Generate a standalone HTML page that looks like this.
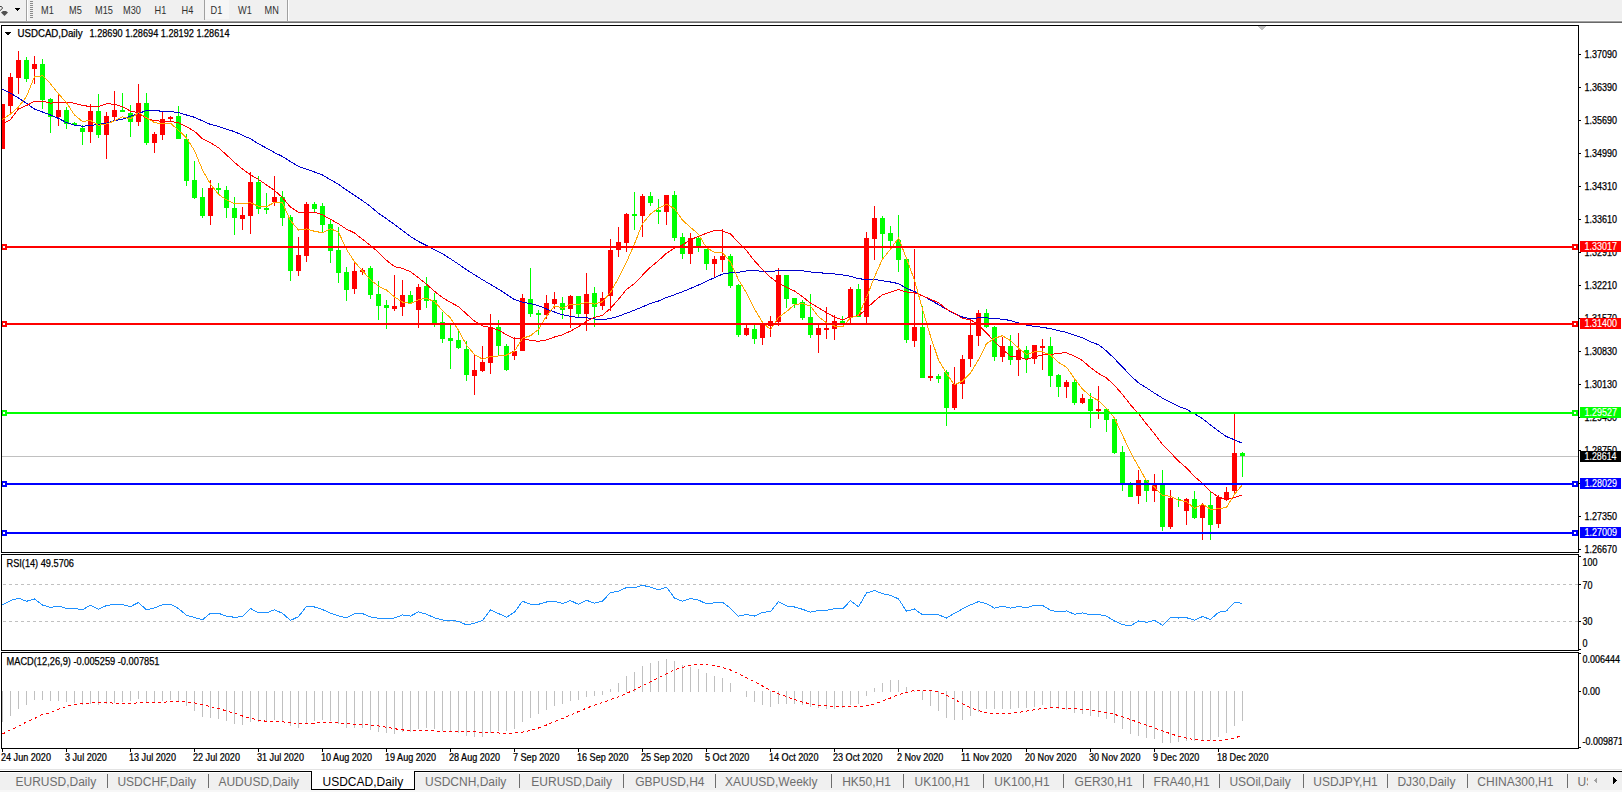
<!DOCTYPE html>
<html><head><meta charset="utf-8"><title>USDCAD,Daily</title>
<style>
html,body{margin:0;padding:0;background:#fff;}
body{width:1622px;height:792px;overflow:hidden;position:relative;}
svg{position:absolute;left:0;top:0;display:block;}
.ax{font-family:"Liberation Sans",Arial,sans-serif;font-size:10px;fill:#000;stroke:#000;stroke-width:0.25px;}
.axw{fill:#fff;stroke:#fff;stroke-width:0.15px;}
.tb{font-family:"Liberation Sans",Arial,sans-serif;font-size:10px;fill:#303030;}
.tab{font-family:"Liberation Sans",Arial,sans-serif;font-size:12px;}
</style></head><body>
<svg width="1622" height="792" viewBox="0 0 1622 792" shape-rendering="crispEdges">
<rect x="0" y="0" width="1622" height="792" fill="#fff"/>
<rect x="0" y="0" width="1622" height="21" fill="#f0f0f0"/>
<rect x="0" y="20" width="1622" height="1" fill="#f7f7f7"/>
<rect x="0" y="21" width="1622" height="1" fill="#a0a0a0"/>
<rect x="0" y="22" width="1622" height="1" fill="#696969"/>
<path d="M0,6.5 L1.5,6.5 L2.5,8 L1.5,9.5 L0,10.5" fill="none" stroke="#404040" stroke-width="1" shape-rendering="auto"/>
<polygon points="3,11 6,11 8,12.5 4.5,16 1,12.5" fill="#505050" shape-rendering="auto"/>
<polygon points="15,8 20,8 17.5,11" fill="#000"/>
<rect x="26" y="0" width="1" height="21" fill="#a0a0a0"/><rect x="27" y="0" width="1" height="21" fill="#fff"/>
<rect x="30" y="1" width="3" height="1" fill="#8a8a8a"/>
<rect x="30" y="3" width="3" height="1" fill="#8a8a8a"/>
<rect x="30" y="5" width="3" height="1" fill="#8a8a8a"/>
<rect x="30" y="7" width="3" height="1" fill="#8a8a8a"/>
<rect x="30" y="9" width="3" height="1" fill="#8a8a8a"/>
<rect x="30" y="11" width="3" height="1" fill="#8a8a8a"/>
<rect x="30" y="13" width="3" height="1" fill="#8a8a8a"/>
<rect x="30" y="15" width="3" height="1" fill="#8a8a8a"/>
<rect x="30" y="17" width="3" height="1" fill="#8a8a8a"/>
<rect x="205" y="0" width="24" height="19" fill="#f6f6f6"/>
<rect x="204" y="0" width="1" height="20" fill="#a0a0a0"/>
<rect x="287" y="0" width="1" height="21" fill="#a0a0a0"/><rect x="288" y="0" width="1" height="21" fill="#fff"/>
<text transform="translate(41,13.6) scale(0.92,1)" class="tb">M1</text>
<text transform="translate(69,13.6) scale(0.92,1)" class="tb">M5</text>
<text transform="translate(95,13.6) scale(0.92,1)" class="tb">M15</text>
<text transform="translate(123,13.6) scale(0.92,1)" class="tb">M30</text>
<text transform="translate(154.5,13.6) scale(0.92,1)" class="tb">H1</text>
<text transform="translate(181.5,13.6) scale(0.92,1)" class="tb">H4</text>
<text transform="translate(210.5,13.6) scale(0.92,1)" class="tb">D1</text>
<text transform="translate(238,13.6) scale(0.92,1)" class="tb">W1</text>
<text transform="translate(264.5,13.6) scale(0.92,1)" class="tb">MN</text>
<line x1="2" y1="456.5" x2="1578" y2="456.5" stroke="#c0c0c0" stroke-width="1"/>
<rect x="2" y="104" width="1" height="45" fill="#ff0000"/>
<rect x="2" y="104" width="3" height="45" fill="#ff0000"/>
<rect x="10" y="73" width="1" height="40" fill="#ff0000"/>
<rect x="8" y="77" width="5" height="29" fill="#ff0000"/>
<rect x="18" y="51" width="1" height="43" fill="#ff0000"/>
<rect x="16" y="60" width="5" height="18" fill="#ff0000"/>
<rect x="26" y="57" width="1" height="25" fill="#00ff00"/>
<rect x="24" y="60" width="5" height="19" fill="#00ff00"/>
<rect x="34" y="56" width="1" height="28" fill="#ff0000"/>
<rect x="32" y="64" width="5" height="5" fill="#ff0000"/>
<rect x="42" y="59" width="1" height="50" fill="#00ff00"/>
<rect x="40" y="64" width="5" height="36" fill="#00ff00"/>
<rect x="50" y="98" width="1" height="35" fill="#00ff00"/>
<rect x="48" y="99" width="5" height="18" fill="#00ff00"/>
<rect x="58" y="94" width="1" height="32" fill="#ff0000"/>
<rect x="56" y="110" width="5" height="7" fill="#ff0000"/>
<rect x="66" y="107" width="1" height="22" fill="#00ff00"/>
<rect x="64" y="110" width="5" height="14" fill="#00ff00"/>
<rect x="74" y="122" width="1" height="4" fill="#00ff00"/>
<rect x="72" y="123" width="5" height="2" fill="#00ff00"/>
<rect x="82" y="125" width="1" height="20" fill="#00ff00"/>
<rect x="80" y="128" width="5" height="4" fill="#00ff00"/>
<rect x="90" y="104" width="1" height="39" fill="#ff0000"/>
<rect x="88" y="111" width="5" height="21" fill="#ff0000"/>
<rect x="98" y="94" width="1" height="44" fill="#00ff00"/>
<rect x="96" y="111" width="5" height="24" fill="#00ff00"/>
<rect x="106" y="112" width="1" height="47" fill="#ff0000"/>
<rect x="104" y="116" width="5" height="19" fill="#ff0000"/>
<rect x="114" y="91" width="1" height="30" fill="#ff0000"/>
<rect x="112" y="110" width="5" height="7" fill="#ff0000"/>
<rect x="122" y="93" width="1" height="19" fill="#00ff00"/>
<rect x="120" y="110" width="5" height="2" fill="#00ff00"/>
<rect x="130" y="105" width="1" height="32" fill="#00ff00"/>
<rect x="128" y="113" width="5" height="9" fill="#00ff00"/>
<rect x="138" y="84" width="1" height="42" fill="#ff0000"/>
<rect x="136" y="103" width="5" height="19" fill="#ff0000"/>
<rect x="146" y="93" width="1" height="52" fill="#00ff00"/>
<rect x="144" y="103" width="5" height="40" fill="#00ff00"/>
<rect x="154" y="132" width="1" height="21" fill="#ff0000"/>
<rect x="152" y="134" width="5" height="9" fill="#ff0000"/>
<rect x="162" y="112" width="1" height="28" fill="#ff0000"/>
<rect x="160" y="119" width="5" height="16" fill="#ff0000"/>
<rect x="170" y="116" width="1" height="5" fill="#ff0000"/>
<rect x="168" y="117" width="5" height="2" fill="#ff0000"/>
<rect x="178" y="106" width="1" height="33" fill="#00ff00"/>
<rect x="176" y="116" width="5" height="23" fill="#00ff00"/>
<rect x="186" y="134" width="1" height="52" fill="#00ff00"/>
<rect x="184" y="139" width="5" height="42" fill="#00ff00"/>
<rect x="194" y="161" width="1" height="38" fill="#00ff00"/>
<rect x="192" y="180" width="5" height="18" fill="#00ff00"/>
<rect x="202" y="188" width="1" height="30" fill="#00ff00"/>
<rect x="200" y="197" width="5" height="19" fill="#00ff00"/>
<rect x="210" y="180" width="1" height="45" fill="#ff0000"/>
<rect x="208" y="188" width="5" height="28" fill="#ff0000"/>
<rect x="218" y="183" width="1" height="11" fill="#00ff00"/>
<rect x="216" y="188" width="5" height="2" fill="#00ff00"/>
<rect x="226" y="186" width="1" height="32" fill="#00ff00"/>
<rect x="224" y="190" width="5" height="18" fill="#00ff00"/>
<rect x="234" y="197" width="1" height="38" fill="#00ff00"/>
<rect x="232" y="208" width="5" height="10" fill="#00ff00"/>
<rect x="242" y="207" width="1" height="23" fill="#ff0000"/>
<rect x="240" y="215" width="5" height="4" fill="#ff0000"/>
<rect x="250" y="172" width="1" height="62" fill="#ff0000"/>
<rect x="248" y="182" width="5" height="34" fill="#ff0000"/>
<rect x="258" y="176" width="1" height="38" fill="#00ff00"/>
<rect x="256" y="182" width="5" height="27" fill="#00ff00"/>
<rect x="266" y="193" width="1" height="21" fill="#00ff00"/>
<rect x="264" y="208" width="5" height="2" fill="#00ff00"/>
<rect x="274" y="176" width="1" height="30" fill="#ff0000"/>
<rect x="272" y="197" width="5" height="5" fill="#ff0000"/>
<rect x="282" y="191" width="1" height="35" fill="#00ff00"/>
<rect x="280" y="197" width="5" height="21" fill="#00ff00"/>
<rect x="290" y="215" width="1" height="66" fill="#00ff00"/>
<rect x="288" y="217" width="5" height="54" fill="#00ff00"/>
<rect x="298" y="237" width="1" height="39" fill="#ff0000"/>
<rect x="296" y="255" width="5" height="16" fill="#ff0000"/>
<rect x="306" y="202" width="1" height="60" fill="#ff0000"/>
<rect x="304" y="204" width="5" height="52" fill="#ff0000"/>
<rect x="314" y="202" width="1" height="11" fill="#00ff00"/>
<rect x="312" y="204" width="5" height="5" fill="#00ff00"/>
<rect x="322" y="203" width="1" height="29" fill="#00ff00"/>
<rect x="320" y="206" width="5" height="19" fill="#00ff00"/>
<rect x="330" y="220" width="1" height="43" fill="#00ff00"/>
<rect x="328" y="224" width="5" height="27" fill="#00ff00"/>
<rect x="338" y="227" width="1" height="56" fill="#00ff00"/>
<rect x="336" y="250" width="5" height="23" fill="#00ff00"/>
<rect x="346" y="267" width="1" height="34" fill="#00ff00"/>
<rect x="344" y="272" width="5" height="18" fill="#00ff00"/>
<rect x="354" y="262" width="1" height="32" fill="#ff0000"/>
<rect x="352" y="271" width="5" height="18" fill="#ff0000"/>
<rect x="362" y="268" width="1" height="7" fill="#ff0000"/>
<rect x="360" y="270" width="5" height="2" fill="#ff0000"/>
<rect x="370" y="266" width="1" height="33" fill="#00ff00"/>
<rect x="368" y="268" width="5" height="27" fill="#00ff00"/>
<rect x="378" y="281" width="1" height="39" fill="#00ff00"/>
<rect x="376" y="294" width="5" height="12" fill="#00ff00"/>
<rect x="386" y="300" width="1" height="29" fill="#00ff00"/>
<rect x="384" y="305" width="5" height="3" fill="#00ff00"/>
<rect x="394" y="275" width="1" height="36" fill="#ff0000"/>
<rect x="392" y="306" width="5" height="3" fill="#ff0000"/>
<rect x="402" y="280" width="1" height="36" fill="#ff0000"/>
<rect x="400" y="295" width="5" height="12" fill="#ff0000"/>
<rect x="410" y="291" width="1" height="12" fill="#00ff00"/>
<rect x="408" y="295" width="5" height="8" fill="#00ff00"/>
<rect x="418" y="284" width="1" height="44" fill="#ff0000"/>
<rect x="416" y="287" width="5" height="23" fill="#ff0000"/>
<rect x="426" y="277" width="1" height="31" fill="#00ff00"/>
<rect x="424" y="286" width="5" height="15" fill="#00ff00"/>
<rect x="434" y="293" width="1" height="34" fill="#00ff00"/>
<rect x="432" y="300" width="5" height="23" fill="#00ff00"/>
<rect x="442" y="312" width="1" height="31" fill="#00ff00"/>
<rect x="440" y="322" width="5" height="17" fill="#00ff00"/>
<rect x="450" y="325" width="1" height="44" fill="#00ff00"/>
<rect x="448" y="338" width="5" height="3" fill="#00ff00"/>
<rect x="458" y="331" width="1" height="18" fill="#00ff00"/>
<rect x="456" y="340" width="5" height="8" fill="#00ff00"/>
<rect x="466" y="341" width="1" height="40" fill="#00ff00"/>
<rect x="464" y="349" width="5" height="26" fill="#00ff00"/>
<rect x="474" y="355" width="1" height="40" fill="#ff0000"/>
<rect x="472" y="370" width="5" height="6" fill="#ff0000"/>
<rect x="482" y="346" width="1" height="26" fill="#ff0000"/>
<rect x="480" y="362" width="5" height="9" fill="#ff0000"/>
<rect x="490" y="314" width="1" height="60" fill="#ff0000"/>
<rect x="488" y="327" width="5" height="36" fill="#ff0000"/>
<rect x="498" y="320" width="1" height="35" fill="#00ff00"/>
<rect x="496" y="327" width="5" height="19" fill="#00ff00"/>
<rect x="506" y="344" width="1" height="27" fill="#00ff00"/>
<rect x="504" y="346" width="5" height="24" fill="#00ff00"/>
<rect x="514" y="337" width="1" height="23" fill="#ff0000"/>
<rect x="512" y="351" width="5" height="5" fill="#ff0000"/>
<rect x="522" y="294" width="1" height="57" fill="#ff0000"/>
<rect x="520" y="298" width="5" height="53" fill="#ff0000"/>
<rect x="530" y="268" width="1" height="49" fill="#00ff00"/>
<rect x="528" y="299" width="5" height="15" fill="#00ff00"/>
<rect x="538" y="310" width="1" height="25" fill="#00ff00"/>
<rect x="536" y="313" width="5" height="2" fill="#00ff00"/>
<rect x="546" y="295" width="1" height="24" fill="#ff0000"/>
<rect x="544" y="303" width="5" height="12" fill="#ff0000"/>
<rect x="554" y="292" width="1" height="17" fill="#ff0000"/>
<rect x="552" y="299" width="5" height="5" fill="#ff0000"/>
<rect x="562" y="297" width="1" height="22" fill="#00ff00"/>
<rect x="560" y="303" width="5" height="7" fill="#00ff00"/>
<rect x="570" y="295" width="1" height="33" fill="#ff0000"/>
<rect x="568" y="296" width="5" height="13" fill="#ff0000"/>
<rect x="578" y="296" width="1" height="21" fill="#00ff00"/>
<rect x="576" y="296" width="5" height="18" fill="#00ff00"/>
<rect x="586" y="273" width="1" height="58" fill="#ff0000"/>
<rect x="584" y="294" width="5" height="20" fill="#ff0000"/>
<rect x="594" y="287" width="1" height="40" fill="#00ff00"/>
<rect x="592" y="293" width="5" height="14" fill="#00ff00"/>
<rect x="602" y="292" width="1" height="18" fill="#ff0000"/>
<rect x="600" y="298" width="5" height="8" fill="#ff0000"/>
<rect x="610" y="239" width="1" height="72" fill="#ff0000"/>
<rect x="608" y="250" width="5" height="46" fill="#ff0000"/>
<rect x="618" y="227" width="1" height="30" fill="#ff0000"/>
<rect x="616" y="242" width="5" height="8" fill="#ff0000"/>
<rect x="626" y="213" width="1" height="39" fill="#ff0000"/>
<rect x="624" y="214" width="5" height="29" fill="#ff0000"/>
<rect x="634" y="192" width="1" height="38" fill="#00ff00"/>
<rect x="632" y="214" width="5" height="2" fill="#00ff00"/>
<rect x="642" y="194" width="1" height="43" fill="#ff0000"/>
<rect x="640" y="196" width="5" height="20" fill="#ff0000"/>
<rect x="650" y="192" width="1" height="14" fill="#00ff00"/>
<rect x="648" y="196" width="5" height="7" fill="#00ff00"/>
<rect x="658" y="199" width="1" height="25" fill="#00ff00"/>
<rect x="656" y="210" width="5" height="2" fill="#00ff00"/>
<rect x="666" y="195" width="1" height="30" fill="#ff0000"/>
<rect x="664" y="195" width="5" height="17" fill="#ff0000"/>
<rect x="674" y="191" width="1" height="50" fill="#00ff00"/>
<rect x="672" y="195" width="5" height="43" fill="#00ff00"/>
<rect x="682" y="233" width="1" height="26" fill="#00ff00"/>
<rect x="680" y="237" width="5" height="17" fill="#00ff00"/>
<rect x="690" y="233" width="1" height="31" fill="#ff0000"/>
<rect x="688" y="238" width="5" height="16" fill="#ff0000"/>
<rect x="698" y="236" width="1" height="16" fill="#00ff00"/>
<rect x="696" y="238" width="5" height="8" fill="#00ff00"/>
<rect x="706" y="249" width="1" height="21" fill="#00ff00"/>
<rect x="704" y="249" width="5" height="15" fill="#00ff00"/>
<rect x="714" y="256" width="1" height="21" fill="#ff0000"/>
<rect x="712" y="259" width="5" height="5" fill="#ff0000"/>
<rect x="722" y="229" width="1" height="43" fill="#ff0000"/>
<rect x="720" y="256" width="5" height="4" fill="#ff0000"/>
<rect x="730" y="254" width="1" height="34" fill="#00ff00"/>
<rect x="728" y="256" width="5" height="30" fill="#00ff00"/>
<rect x="738" y="284" width="1" height="53" fill="#00ff00"/>
<rect x="736" y="285" width="5" height="50" fill="#00ff00"/>
<rect x="746" y="325" width="1" height="11" fill="#ff0000"/>
<rect x="744" y="328" width="5" height="7" fill="#ff0000"/>
<rect x="754" y="325" width="1" height="19" fill="#00ff00"/>
<rect x="752" y="329" width="5" height="10" fill="#00ff00"/>
<rect x="762" y="323" width="1" height="22" fill="#ff0000"/>
<rect x="760" y="324" width="5" height="14" fill="#ff0000"/>
<rect x="770" y="316" width="1" height="21" fill="#ff0000"/>
<rect x="768" y="321" width="5" height="5" fill="#ff0000"/>
<rect x="778" y="268" width="1" height="58" fill="#ff0000"/>
<rect x="776" y="275" width="5" height="47" fill="#ff0000"/>
<rect x="786" y="275" width="1" height="33" fill="#00ff00"/>
<rect x="784" y="275" width="5" height="24" fill="#00ff00"/>
<rect x="794" y="298" width="1" height="10" fill="#00ff00"/>
<rect x="792" y="298" width="5" height="6" fill="#00ff00"/>
<rect x="802" y="300" width="1" height="20" fill="#00ff00"/>
<rect x="800" y="302" width="5" height="16" fill="#00ff00"/>
<rect x="810" y="294" width="1" height="44" fill="#00ff00"/>
<rect x="808" y="317" width="5" height="18" fill="#00ff00"/>
<rect x="818" y="325" width="1" height="28" fill="#ff0000"/>
<rect x="816" y="328" width="5" height="7" fill="#ff0000"/>
<rect x="826" y="307" width="1" height="32" fill="#ff0000"/>
<rect x="824" y="328" width="5" height="2" fill="#ff0000"/>
<rect x="834" y="315" width="1" height="25" fill="#ff0000"/>
<rect x="832" y="321" width="5" height="8" fill="#ff0000"/>
<rect x="842" y="316" width="1" height="8" fill="#00ff00"/>
<rect x="840" y="321" width="5" height="2" fill="#00ff00"/>
<rect x="850" y="287" width="1" height="36" fill="#ff0000"/>
<rect x="848" y="289" width="5" height="28" fill="#ff0000"/>
<rect x="858" y="284" width="1" height="33" fill="#00ff00"/>
<rect x="856" y="289" width="5" height="28" fill="#00ff00"/>
<rect x="866" y="232" width="1" height="92" fill="#ff0000"/>
<rect x="864" y="238" width="5" height="79" fill="#ff0000"/>
<rect x="874" y="206" width="1" height="54" fill="#ff0000"/>
<rect x="872" y="218" width="5" height="21" fill="#ff0000"/>
<rect x="882" y="216" width="1" height="43" fill="#00ff00"/>
<rect x="880" y="218" width="5" height="16" fill="#00ff00"/>
<rect x="890" y="226" width="1" height="20" fill="#00ff00"/>
<rect x="888" y="233" width="5" height="8" fill="#00ff00"/>
<rect x="898" y="215" width="1" height="57" fill="#00ff00"/>
<rect x="896" y="240" width="5" height="20" fill="#00ff00"/>
<rect x="906" y="259" width="1" height="84" fill="#00ff00"/>
<rect x="904" y="259" width="5" height="81" fill="#00ff00"/>
<rect x="914" y="249" width="1" height="98" fill="#ff0000"/>
<rect x="912" y="327" width="5" height="14" fill="#ff0000"/>
<rect x="922" y="306" width="1" height="72" fill="#00ff00"/>
<rect x="920" y="327" width="5" height="51" fill="#00ff00"/>
<rect x="930" y="345" width="1" height="36" fill="#ff0000"/>
<rect x="928" y="376" width="5" height="2" fill="#ff0000"/>
<rect x="938" y="374" width="1" height="9" fill="#00ff00"/>
<rect x="936" y="376" width="5" height="3" fill="#00ff00"/>
<rect x="946" y="370" width="1" height="56" fill="#00ff00"/>
<rect x="944" y="372" width="5" height="36" fill="#00ff00"/>
<rect x="954" y="367" width="1" height="43" fill="#ff0000"/>
<rect x="952" y="384" width="5" height="24" fill="#ff0000"/>
<rect x="962" y="355" width="1" height="44" fill="#ff0000"/>
<rect x="960" y="359" width="5" height="25" fill="#ff0000"/>
<rect x="970" y="319" width="1" height="48" fill="#ff0000"/>
<rect x="968" y="335" width="5" height="24" fill="#ff0000"/>
<rect x="978" y="310" width="1" height="36" fill="#ff0000"/>
<rect x="976" y="313" width="5" height="23" fill="#ff0000"/>
<rect x="986" y="309" width="1" height="19" fill="#00ff00"/>
<rect x="984" y="313" width="5" height="14" fill="#00ff00"/>
<rect x="994" y="326" width="1" height="35" fill="#00ff00"/>
<rect x="992" y="327" width="5" height="30" fill="#00ff00"/>
<rect x="1002" y="337" width="1" height="25" fill="#ff0000"/>
<rect x="1000" y="346" width="5" height="11" fill="#ff0000"/>
<rect x="1010" y="335" width="1" height="30" fill="#00ff00"/>
<rect x="1008" y="346" width="5" height="14" fill="#00ff00"/>
<rect x="1018" y="333" width="1" height="43" fill="#ff0000"/>
<rect x="1016" y="350" width="5" height="10" fill="#ff0000"/>
<rect x="1026" y="346" width="1" height="27" fill="#00ff00"/>
<rect x="1024" y="350" width="5" height="9" fill="#00ff00"/>
<rect x="1034" y="345" width="1" height="19" fill="#ff0000"/>
<rect x="1032" y="345" width="5" height="14" fill="#ff0000"/>
<rect x="1042" y="339" width="1" height="31" fill="#ff0000"/>
<rect x="1040" y="346" width="5" height="2" fill="#ff0000"/>
<rect x="1050" y="337" width="1" height="50" fill="#00ff00"/>
<rect x="1048" y="346" width="5" height="30" fill="#00ff00"/>
<rect x="1058" y="374" width="1" height="23" fill="#00ff00"/>
<rect x="1056" y="375" width="5" height="12" fill="#00ff00"/>
<rect x="1066" y="380" width="1" height="18" fill="#ff0000"/>
<rect x="1064" y="382" width="5" height="5" fill="#ff0000"/>
<rect x="1074" y="379" width="1" height="26" fill="#00ff00"/>
<rect x="1072" y="382" width="5" height="21" fill="#00ff00"/>
<rect x="1082" y="394" width="1" height="10" fill="#ff0000"/>
<rect x="1080" y="398" width="5" height="5" fill="#ff0000"/>
<rect x="1090" y="393" width="1" height="35" fill="#00ff00"/>
<rect x="1088" y="399" width="5" height="12" fill="#00ff00"/>
<rect x="1098" y="386" width="1" height="33" fill="#ff0000"/>
<rect x="1096" y="409" width="5" height="2" fill="#ff0000"/>
<rect x="1106" y="408" width="1" height="24" fill="#00ff00"/>
<rect x="1104" y="409" width="5" height="11" fill="#00ff00"/>
<rect x="1114" y="419" width="1" height="35" fill="#00ff00"/>
<rect x="1112" y="419" width="5" height="34" fill="#00ff00"/>
<rect x="1122" y="446" width="1" height="45" fill="#00ff00"/>
<rect x="1120" y="452" width="5" height="31" fill="#00ff00"/>
<rect x="1130" y="482" width="1" height="15" fill="#00ff00"/>
<rect x="1128" y="485" width="5" height="12" fill="#00ff00"/>
<rect x="1138" y="470" width="1" height="34" fill="#ff0000"/>
<rect x="1136" y="480" width="5" height="16" fill="#ff0000"/>
<rect x="1146" y="480" width="1" height="22" fill="#00ff00"/>
<rect x="1144" y="480" width="5" height="11" fill="#00ff00"/>
<rect x="1154" y="474" width="1" height="28" fill="#ff0000"/>
<rect x="1152" y="484" width="5" height="7" fill="#ff0000"/>
<rect x="1162" y="470" width="1" height="61" fill="#00ff00"/>
<rect x="1160" y="484" width="5" height="43" fill="#00ff00"/>
<rect x="1170" y="490" width="1" height="39" fill="#ff0000"/>
<rect x="1168" y="498" width="5" height="29" fill="#ff0000"/>
<rect x="1178" y="497" width="1" height="10" fill="#00ff00"/>
<rect x="1176" y="499" width="5" height="1" fill="#00ff00"/>
<rect x="1186" y="498" width="1" height="27" fill="#ff0000"/>
<rect x="1184" y="499" width="5" height="12" fill="#ff0000"/>
<rect x="1194" y="491" width="1" height="28" fill="#00ff00"/>
<rect x="1192" y="499" width="5" height="19" fill="#00ff00"/>
<rect x="1202" y="503" width="1" height="37" fill="#ff0000"/>
<rect x="1200" y="505" width="5" height="13" fill="#ff0000"/>
<rect x="1210" y="492" width="1" height="48" fill="#00ff00"/>
<rect x="1208" y="505" width="5" height="20" fill="#00ff00"/>
<rect x="1218" y="495" width="1" height="33" fill="#ff0000"/>
<rect x="1216" y="497" width="5" height="27" fill="#ff0000"/>
<rect x="1226" y="487" width="1" height="14" fill="#ff0000"/>
<rect x="1224" y="492" width="5" height="8" fill="#ff0000"/>
<rect x="1234" y="413" width="1" height="80" fill="#ff0000"/>
<rect x="1232" y="453" width="5" height="38" fill="#ff0000"/>
<rect x="1242" y="452" width="1" height="25" fill="#00ff00"/>
<rect x="1240" y="453" width="5" height="3" fill="#00ff00"/>
<polyline points="2.5,89.3 10.5,93.3 18.5,97.9 26.5,103.4 34.5,109.0 42.5,112.0 50.5,115.0 58.5,118.4 66.5,122.6 74.5,125.2 82.5,126.2 90.5,125.5 98.5,124.4 106.5,123.1 114.5,120.6 122.5,119.1 130.5,116.2 138.5,113.4 146.5,110.6 154.5,110.2 162.5,111.5 170.5,111.5 178.5,112.7 186.5,115.0 194.5,117.3 202.5,120.9 210.5,124.4 218.5,126.5 226.5,129.2 234.5,131.6 242.5,135.3 250.5,138.8 258.5,143.8 266.5,148.1 274.5,152.6 282.5,156.5 290.5,161.6 298.5,166.5 306.5,169.2 314.5,172.0 322.5,175.0 330.5,179.7 338.5,184.3 346.5,190.1 354.5,195.4 362.5,200.7 370.5,206.5 378.5,213.3 386.5,218.8 394.5,224.5 402.5,230.4 410.5,236.6 418.5,241.5 426.5,245.5 434.5,249.7 442.5,253.8 450.5,258.9 458.5,264.2 466.5,269.7 474.5,274.8 482.5,279.7 490.5,284.5 498.5,289.1 506.5,294.4 514.5,299.6 522.5,302.2 530.5,303.7 538.5,305.7 546.5,309.0 554.5,312.0 562.5,314.8 570.5,316.3 578.5,317.7 586.5,317.8 594.5,319.0 602.5,320.0 610.5,318.4 618.5,316.3 626.5,313.2 634.5,310.2 642.5,306.9 650.5,303.5 658.5,301.0 666.5,297.5 674.5,294.7 682.5,291.8 690.5,288.4 698.5,285.0 706.5,281.3 714.5,277.6 722.5,274.1 730.5,272.7 738.5,272.3 746.5,270.9 754.5,270.6 762.5,271.4 770.5,271.7 778.5,270.4 786.5,270.2 794.5,270.4 802.5,270.7 810.5,272.0 818.5,272.4 826.5,273.6 834.5,274.0 842.5,274.9 850.5,276.2 858.5,278.7 866.5,279.5 874.5,279.5 882.5,280.8 890.5,282.0 898.5,283.6 906.5,288.5 914.5,291.5 922.5,295.6 930.5,300.2 938.5,304.6 946.5,309.4 954.5,313.6 962.5,317.0 970.5,318.7 978.5,317.9 986.5,317.9 994.5,318.5 1002.5,319.2 1010.5,320.5 1018.5,323.0 1026.5,325.0 1034.5,326.4 1042.5,327.3 1050.5,328.7 1058.5,330.6 1066.5,332.4 1074.5,335.2 1082.5,337.7 1090.5,341.7 1098.5,344.8 1106.5,350.9 1114.5,358.7 1122.5,367.0 1130.5,375.6 1138.5,382.9 1146.5,387.9 1154.5,393.2 1162.5,398.1 1170.5,402.2 1178.5,406.3 1186.5,409.3 1194.5,413.8 1202.5,418.6 1210.5,425.0 1218.5,431.1 1226.5,436.6 1234.5,439.8 1242.5,443.4" fill="none" stroke="#0000cd" stroke-width="1"/>
<polyline points="2.5,123.6 10.5,119.6 18.5,109.0 26.5,105.5 34.5,101.4 42.5,101.2 50.5,103.2 58.5,102.4 66.5,102.4 74.5,103.2 82.5,105.5 90.5,106.5 98.5,106.5 106.5,103.8 114.5,104.2 122.5,106.7 130.5,111.1 138.5,112.8 146.5,118.5 154.5,120.9 162.5,121.1 170.5,121.6 178.5,122.6 186.5,126.6 194.5,131.3 202.5,138.8 210.5,142.6 218.5,147.8 226.5,154.9 234.5,162.4 242.5,169.1 250.5,174.8 258.5,179.5 266.5,184.9 274.5,190.4 282.5,197.6 290.5,207.1 298.5,212.3 306.5,212.8 314.5,212.3 322.5,214.9 330.5,219.3 338.5,223.9 346.5,229.1 354.5,233.0 362.5,239.3 370.5,245.5 378.5,252.4 386.5,260.3 394.5,266.6 402.5,268.4 410.5,271.7 418.5,277.7 426.5,284.2 434.5,291.3 442.5,297.6 450.5,302.4 458.5,306.6 466.5,314.0 474.5,321.1 482.5,325.9 490.5,327.4 498.5,330.1 506.5,334.7 514.5,338.7 522.5,338.4 530.5,340.3 538.5,341.3 546.5,339.9 554.5,337.0 562.5,334.8 570.5,331.1 578.5,326.7 586.5,321.3 594.5,317.3 602.5,315.3 610.5,308.4 618.5,299.2 626.5,289.5 634.5,283.6 642.5,275.2 650.5,267.2 658.5,260.7 666.5,253.2 674.5,248.1 682.5,245.1 690.5,239.7 698.5,236.3 706.5,233.2 714.5,230.4 722.5,230.9 730.5,234.0 738.5,242.6 746.5,250.6 754.5,260.9 762.5,269.5 770.5,277.4 778.5,283.1 786.5,287.4 794.5,291.0 802.5,296.7 810.5,303.1 818.5,307.7 826.5,312.6 834.5,317.2 842.5,319.9 850.5,316.6 858.5,315.8 866.5,308.6 874.5,301.0 882.5,294.7 890.5,292.2 898.5,289.5 906.5,292.0 914.5,292.7 922.5,295.8 930.5,299.2 938.5,302.8 946.5,309.0 954.5,313.4 962.5,318.4 970.5,319.7 978.5,325.0 986.5,332.8 994.5,341.7 1002.5,349.2 1010.5,356.4 1018.5,357.1 1026.5,359.3 1034.5,356.9 1042.5,354.8 1050.5,354.6 1058.5,353.1 1066.5,352.9 1074.5,356.1 1082.5,360.6 1090.5,367.6 1098.5,373.4 1106.5,377.9 1114.5,385.5 1122.5,394.4 1130.5,404.9 1138.5,413.6 1146.5,424.0 1154.5,433.8 1162.5,444.6 1170.5,452.6 1178.5,461.1 1186.5,467.9 1194.5,476.5 1202.5,483.2 1210.5,491.5 1218.5,497.0 1226.5,499.7 1234.5,497.6 1242.5,494.7" fill="none" stroke="#ff0000" stroke-width="1"/>
<polyline points="2.5,119.6 10.5,114.0 18.5,107.0 26.5,96.4 34.5,76.7 42.5,75.8 50.5,83.8 58.5,93.8 66.5,102.8 74.5,115.0 82.5,121.5 90.5,120.3 98.5,125.3 106.5,123.9 114.5,120.9 122.5,116.8 130.5,118.9 138.5,112.5 146.5,117.8 154.5,122.6 162.5,124.0 170.5,123.2 178.5,130.3 186.5,137.9 194.5,150.7 202.5,170.0 210.5,184.2 218.5,194.4 226.5,199.9 234.5,203.9 242.5,203.7 250.5,202.6 258.5,206.4 266.5,206.6 274.5,202.4 282.5,202.9 290.5,220.7 298.5,230.0 306.5,228.9 314.5,231.3 322.5,232.7 330.5,228.7 338.5,232.2 346.5,249.3 354.5,261.8 362.5,270.9 370.5,279.7 378.5,286.3 386.5,290.0 394.5,297.0 402.5,302.0 410.5,303.5 418.5,299.7 426.5,298.3 434.5,301.7 442.5,310.4 450.5,318.1 458.5,330.3 466.5,345.1 474.5,354.6 482.5,359.2 490.5,356.4 498.5,356.0 506.5,355.0 514.5,351.1 522.5,338.3 530.5,335.7 538.5,329.5 546.5,316.0 554.5,305.8 562.5,308.1 570.5,304.5 578.5,304.3 586.5,302.5 594.5,304.1 602.5,301.7 610.5,292.4 618.5,278.1 626.5,262.1 634.5,243.9 642.5,223.5 650.5,214.1 658.5,208.1 666.5,204.2 674.5,208.6 682.5,220.2 690.5,227.3 698.5,234.2 706.5,247.9 714.5,252.2 722.5,252.6 730.5,262.1 738.5,279.9 746.5,292.8 754.5,308.8 762.5,322.4 770.5,329.5 778.5,317.5 786.5,311.6 794.5,304.7 802.5,303.4 810.5,306.3 818.5,316.8 826.5,322.7 834.5,326.0 842.5,327.0 850.5,317.7 858.5,315.5 866.5,297.5 874.5,276.9 882.5,259.0 890.5,249.3 898.5,238.0 906.5,258.4 914.5,280.3 922.5,309.1 930.5,336.2 938.5,359.9 946.5,373.5 954.5,384.9 962.5,381.1 970.5,372.9 978.5,359.8 986.5,343.6 994.5,338.3 1002.5,335.7 1010.5,340.7 1018.5,348.1 1026.5,354.4 1034.5,351.9 1042.5,351.9 1050.5,355.0 1058.5,362.4 1066.5,367.1 1074.5,378.7 1082.5,389.1 1090.5,396.2 1098.5,400.6 1106.5,408.2 1114.5,418.2 1122.5,435.2 1130.5,452.4 1138.5,466.6 1146.5,480.8 1154.5,487.1 1162.5,495.8 1170.5,496.1 1178.5,500.1 1186.5,501.8 1194.5,508.5 1202.5,504.1 1210.5,509.4 1218.5,508.8 1226.5,507.3 1234.5,494.3 1242.5,484.6" fill="none" stroke="#ffa500" stroke-width="1"/>
<rect x="1579" y="54" width="2" height="1" fill="#000"/>
<text x="1584.5" y="58" class="ax" textLength="32.5" lengthAdjust="spacingAndGlyphs">1.37090</text>
<rect x="1579" y="87" width="2" height="1" fill="#000"/>
<text x="1584.5" y="91" class="ax" textLength="32.5" lengthAdjust="spacingAndGlyphs">1.36390</text>
<rect x="1579" y="120" width="2" height="1" fill="#000"/>
<text x="1584.5" y="124" class="ax" textLength="32.5" lengthAdjust="spacingAndGlyphs">1.35690</text>
<rect x="1579" y="153" width="2" height="1" fill="#000"/>
<text x="1584.5" y="157" class="ax" textLength="32.5" lengthAdjust="spacingAndGlyphs">1.34990</text>
<rect x="1579" y="186" width="2" height="1" fill="#000"/>
<text x="1584.5" y="190" class="ax" textLength="32.5" lengthAdjust="spacingAndGlyphs">1.34310</text>
<rect x="1579" y="219" width="2" height="1" fill="#000"/>
<text x="1584.5" y="223" class="ax" textLength="32.5" lengthAdjust="spacingAndGlyphs">1.33610</text>
<rect x="1579" y="252" width="2" height="1" fill="#000"/>
<text x="1584.5" y="256" class="ax" textLength="32.5" lengthAdjust="spacingAndGlyphs">1.32910</text>
<rect x="1579" y="285" width="2" height="1" fill="#000"/>
<text x="1584.5" y="289" class="ax" textLength="32.5" lengthAdjust="spacingAndGlyphs">1.32210</text>
<rect x="1579" y="318" width="2" height="1" fill="#000"/>
<text x="1584.5" y="322" class="ax" textLength="32.5" lengthAdjust="spacingAndGlyphs">1.31570</text>
<rect x="1579" y="351" width="2" height="1" fill="#000"/>
<text x="1584.5" y="355" class="ax" textLength="32.5" lengthAdjust="spacingAndGlyphs">1.30830</text>
<rect x="1579" y="384" width="2" height="1" fill="#000"/>
<text x="1584.5" y="388" class="ax" textLength="32.5" lengthAdjust="spacingAndGlyphs">1.30130</text>
<rect x="1579" y="417" width="2" height="1" fill="#000"/>
<text x="1584.5" y="421" class="ax" textLength="32.5" lengthAdjust="spacingAndGlyphs">1.29430</text>
<rect x="1579" y="450" width="2" height="1" fill="#000"/>
<text x="1584.5" y="454" class="ax" textLength="32.5" lengthAdjust="spacingAndGlyphs">1.28750</text>
<rect x="1579" y="483" width="2" height="1" fill="#000"/>
<text x="1584.5" y="487" class="ax" textLength="32.5" lengthAdjust="spacingAndGlyphs">1.28050</text>
<rect x="1579" y="516" width="2" height="1" fill="#000"/>
<text x="1584.5" y="520" class="ax" textLength="32.5" lengthAdjust="spacingAndGlyphs">1.27350</text>
<rect x="1579" y="549" width="2" height="1" fill="#000"/>
<text x="1584.5" y="553" class="ax" textLength="32.5" lengthAdjust="spacingAndGlyphs">1.26670</text>
<rect x="2" y="246" width="1576" height="2" fill="#ff0000"/><rect x="1" y="244" width="6" height="6" fill="#ff0000"/><rect x="3" y="246" width="2" height="2" fill="#fff"/><rect x="1572" y="244" width="6" height="6" fill="#ff0000"/><rect x="1574" y="246" width="2" height="2" fill="#fff"/><rect x="1580" y="241" width="41" height="11" fill="#ff0000"/><text x="1584.5" y="250" class="ax axw" textLength="32.5" lengthAdjust="spacingAndGlyphs">1.33017</text>
<rect x="2" y="323" width="1576" height="2" fill="#ff0000"/><rect x="1" y="321" width="6" height="6" fill="#ff0000"/><rect x="3" y="323" width="2" height="2" fill="#fff"/><rect x="1572" y="321" width="6" height="6" fill="#ff0000"/><rect x="1574" y="323" width="2" height="2" fill="#fff"/><rect x="1580" y="318" width="41" height="11" fill="#ff0000"/><text x="1584.5" y="327" class="ax axw" textLength="32.5" lengthAdjust="spacingAndGlyphs">1.31400</text>
<rect x="2" y="412" width="1576" height="2" fill="#00ff00"/><rect x="1" y="410" width="6" height="6" fill="#00ff00"/><rect x="3" y="412" width="2" height="2" fill="#fff"/><rect x="1572" y="410" width="6" height="6" fill="#00ff00"/><rect x="1574" y="412" width="2" height="2" fill="#fff"/><rect x="1580" y="407" width="41" height="11" fill="#00ff00"/><text x="1584.5" y="416" class="ax axw" textLength="32.5" lengthAdjust="spacingAndGlyphs">1.29527</text>
<rect x="2" y="483" width="1576" height="2" fill="#0000ff"/><rect x="1" y="481" width="6" height="6" fill="#0000ff"/><rect x="3" y="483" width="2" height="2" fill="#fff"/><rect x="1572" y="481" width="6" height="6" fill="#0000ff"/><rect x="1574" y="483" width="2" height="2" fill="#fff"/><rect x="1580" y="478" width="41" height="11" fill="#0000ff"/><text x="1584.5" y="487" class="ax axw" textLength="32.5" lengthAdjust="spacingAndGlyphs">1.28029</text>
<rect x="2" y="532" width="1576" height="2" fill="#0000ff"/><rect x="1" y="530" width="6" height="6" fill="#0000ff"/><rect x="3" y="532" width="2" height="2" fill="#fff"/><rect x="1572" y="530" width="6" height="6" fill="#0000ff"/><rect x="1574" y="532" width="2" height="2" fill="#fff"/><rect x="1580" y="527" width="41" height="11" fill="#0000ff"/><text x="1584.5" y="536" class="ax axw" textLength="32.5" lengthAdjust="spacingAndGlyphs">1.27009</text>
<rect x="1580" y="451" width="41" height="11" fill="#000"/>
<text x="1584.5" y="460" class="ax axw" textLength="32" lengthAdjust="spacingAndGlyphs">1.28614</text>
<polygon points="1257,26 1266,26 1261.5,30.5" fill="#c0c0c0"/>
<line x1="3" y1="584.5" x2="1578" y2="584.5" stroke="#c0c0c0" stroke-dasharray="3 3"/>
<line x1="3" y1="621.5" x2="1578" y2="621.5" stroke="#c0c0c0" stroke-dasharray="3 3"/>
<polyline points="2.5,605.0 10.5,600.6 18.5,598.1 26.5,601.3 34.5,599.0 42.5,605.0 50.5,607.4 58.5,606.2 66.5,608.3 74.5,608.5 82.5,609.7 90.5,605.2 98.5,609.3 106.5,605.5 114.5,604.3 122.5,604.6 130.5,606.6 138.5,602.5 146.5,609.9 154.5,607.9 162.5,604.8 170.5,604.3 178.5,608.5 186.5,615.3 194.5,617.5 202.5,619.8 210.5,613.1 218.5,613.3 226.5,616.1 234.5,617.3 242.5,616.7 250.5,608.5 258.5,612.8 266.5,612.9 274.5,609.8 282.5,613.3 290.5,620.4 298.5,616.6 306.5,606.4 314.5,607.0 322.5,609.5 330.5,613.1 338.5,615.9 346.5,617.9 354.5,613.8 362.5,613.6 370.5,616.9 378.5,618.2 386.5,618.5 394.5,618.0 402.5,614.9 410.5,616.1 418.5,611.9 426.5,614.2 434.5,617.8 442.5,620.0 450.5,620.3 458.5,621.4 466.5,624.9 474.5,623.3 482.5,620.5 490.5,610.0 498.5,613.5 506.5,617.3 514.5,612.1 522.5,601.3 530.5,604.1 538.5,604.3 546.5,602.0 554.5,601.2 562.5,603.5 570.5,600.6 578.5,604.4 586.5,600.3 594.5,603.1 602.5,601.2 610.5,592.5 618.5,591.3 626.5,587.5 634.5,587.9 642.5,585.3 650.5,587.2 658.5,589.8 666.5,587.2 674.5,598.0 682.5,601.3 690.5,598.5 698.5,600.1 706.5,603.8 714.5,602.8 722.5,602.2 730.5,608.4 738.5,616.2 746.5,614.5 754.5,616.0 762.5,612.4 770.5,611.6 778.5,601.6 786.5,605.9 794.5,607.0 802.5,609.3 810.5,612.2 818.5,610.4 826.5,610.4 834.5,608.6 842.5,609.0 850.5,600.7 858.5,606.7 866.5,593.0 874.5,590.5 882.5,593.7 890.5,595.2 898.5,599.0 906.5,611.2 914.5,609.0 922.5,614.8 930.5,614.5 938.5,614.8 946.5,618.0 954.5,613.3 962.5,608.9 970.5,604.9 978.5,601.6 986.5,603.7 994.5,608.1 1002.5,606.2 1010.5,608.2 1018.5,606.4 1026.5,607.7 1034.5,605.1 1042.5,605.4 1050.5,610.3 1058.5,612.0 1066.5,610.9 1074.5,614.2 1082.5,612.9 1090.5,615.0 1098.5,614.4 1106.5,616.2 1114.5,621.0 1122.5,624.5 1130.5,625.9 1138.5,621.0 1146.5,622.3 1154.5,620.4 1162.5,625.3 1170.5,617.7 1178.5,618.0 1186.5,617.7 1194.5,620.2 1202.5,616.6 1210.5,619.4 1218.5,612.3 1226.5,610.9 1234.5,602.5 1242.5,603.2" fill="none" stroke="#1e90ff" stroke-width="1"/>
<rect x="1579" y="556" width="2" height="1" fill="#000"/>
<text transform="translate(1582.5,566) scale(0.9,1)" class="ax">100</text>
<rect x="1579" y="584" width="2" height="1" fill="#000"/>
<text transform="translate(1582.5,589) scale(0.9,1)" class="ax">70</text>
<rect x="1579" y="621" width="2" height="1" fill="#000"/>
<text transform="translate(1582.5,625) scale(0.9,1)" class="ax">30</text>
<rect x="1579" y="649" width="2" height="1" fill="#000"/>
<text transform="translate(1582.5,647) scale(0.9,1)" class="ax">0</text>
<rect x="2" y="691" width="1" height="31" fill="#c0c0c0"/>
<rect x="10" y="691" width="1" height="25" fill="#c0c0c0"/>
<rect x="18" y="691" width="1" height="18" fill="#c0c0c0"/>
<rect x="26" y="691" width="1" height="14" fill="#c0c0c0"/>
<rect x="34" y="691" width="1" height="9" fill="#c0c0c0"/>
<rect x="42" y="691" width="1" height="9" fill="#c0c0c0"/>
<rect x="50" y="691" width="1" height="10" fill="#c0c0c0"/>
<rect x="58" y="691" width="1" height="10" fill="#c0c0c0"/>
<rect x="66" y="691" width="1" height="11" fill="#c0c0c0"/>
<rect x="74" y="691" width="1" height="12" fill="#c0c0c0"/>
<rect x="82" y="691" width="1" height="14" fill="#c0c0c0"/>
<rect x="90" y="691" width="1" height="13" fill="#c0c0c0"/>
<rect x="98" y="691" width="1" height="14" fill="#c0c0c0"/>
<rect x="106" y="691" width="1" height="13" fill="#c0c0c0"/>
<rect x="114" y="691" width="1" height="12" fill="#c0c0c0"/>
<rect x="122" y="691" width="1" height="11" fill="#c0c0c0"/>
<rect x="130" y="691" width="1" height="10" fill="#c0c0c0"/>
<rect x="138" y="691" width="1" height="8" fill="#c0c0c0"/>
<rect x="146" y="691" width="1" height="11" fill="#c0c0c0"/>
<rect x="154" y="691" width="1" height="11" fill="#c0c0c0"/>
<rect x="162" y="691" width="1" height="10" fill="#c0c0c0"/>
<rect x="170" y="691" width="1" height="9" fill="#c0c0c0"/>
<rect x="178" y="691" width="1" height="10" fill="#c0c0c0"/>
<rect x="186" y="691" width="1" height="15" fill="#c0c0c0"/>
<rect x="194" y="691" width="1" height="20" fill="#c0c0c0"/>
<rect x="202" y="691" width="1" height="26" fill="#c0c0c0"/>
<rect x="210" y="691" width="1" height="27" fill="#c0c0c0"/>
<rect x="218" y="691" width="1" height="28" fill="#c0c0c0"/>
<rect x="226" y="691" width="1" height="30" fill="#c0c0c0"/>
<rect x="234" y="691" width="1" height="33" fill="#c0c0c0"/>
<rect x="242" y="691" width="1" height="34" fill="#c0c0c0"/>
<rect x="250" y="691" width="1" height="31" fill="#c0c0c0"/>
<rect x="258" y="691" width="1" height="31" fill="#c0c0c0"/>
<rect x="266" y="691" width="1" height="31" fill="#c0c0c0"/>
<rect x="274" y="691" width="1" height="29" fill="#c0c0c0"/>
<rect x="282" y="691" width="1" height="30" fill="#c0c0c0"/>
<rect x="290" y="691" width="1" height="35" fill="#c0c0c0"/>
<rect x="298" y="691" width="1" height="37" fill="#c0c0c0"/>
<rect x="306" y="691" width="1" height="33" fill="#c0c0c0"/>
<rect x="314" y="691" width="1" height="30" fill="#c0c0c0"/>
<rect x="322" y="691" width="1" height="29" fill="#c0c0c0"/>
<rect x="330" y="691" width="1" height="30" fill="#c0c0c0"/>
<rect x="338" y="691" width="1" height="33" fill="#c0c0c0"/>
<rect x="346" y="691" width="1" height="37" fill="#c0c0c0"/>
<rect x="354" y="691" width="1" height="37" fill="#c0c0c0"/>
<rect x="362" y="691" width="1" height="37" fill="#c0c0c0"/>
<rect x="370" y="691" width="1" height="39" fill="#c0c0c0"/>
<rect x="378" y="691" width="1" height="41" fill="#c0c0c0"/>
<rect x="386" y="691" width="1" height="42" fill="#c0c0c0"/>
<rect x="394" y="691" width="1" height="43" fill="#c0c0c0"/>
<rect x="402" y="691" width="1" height="41" fill="#c0c0c0"/>
<rect x="410" y="691" width="1" height="41" fill="#c0c0c0"/>
<rect x="418" y="691" width="1" height="38" fill="#c0c0c0"/>
<rect x="426" y="691" width="1" height="37" fill="#c0c0c0"/>
<rect x="434" y="691" width="1" height="38" fill="#c0c0c0"/>
<rect x="442" y="691" width="1" height="40" fill="#c0c0c0"/>
<rect x="450" y="691" width="1" height="41" fill="#c0c0c0"/>
<rect x="458" y="691" width="1" height="42" fill="#c0c0c0"/>
<rect x="466" y="691" width="1" height="45" fill="#c0c0c0"/>
<rect x="474" y="691" width="1" height="46" fill="#c0c0c0"/>
<rect x="482" y="691" width="1" height="46" fill="#c0c0c0"/>
<rect x="490" y="691" width="1" height="42" fill="#c0c0c0"/>
<rect x="498" y="691" width="1" height="40" fill="#c0c0c0"/>
<rect x="506" y="691" width="1" height="40" fill="#c0c0c0"/>
<rect x="514" y="691" width="1" height="38" fill="#c0c0c0"/>
<rect x="522" y="691" width="1" height="31" fill="#c0c0c0"/>
<rect x="530" y="691" width="1" height="27" fill="#c0c0c0"/>
<rect x="538" y="691" width="1" height="23" fill="#c0c0c0"/>
<rect x="546" y="691" width="1" height="19" fill="#c0c0c0"/>
<rect x="554" y="691" width="1" height="15" fill="#c0c0c0"/>
<rect x="562" y="691" width="1" height="13" fill="#c0c0c0"/>
<rect x="570" y="691" width="1" height="10" fill="#c0c0c0"/>
<rect x="578" y="691" width="1" height="9" fill="#c0c0c0"/>
<rect x="586" y="691" width="1" height="6" fill="#c0c0c0"/>
<rect x="594" y="691" width="1" height="5" fill="#c0c0c0"/>
<rect x="602" y="691" width="1" height="4" fill="#c0c0c0"/>
<rect x="610" y="689" width="1" height="3" fill="#c0c0c0"/>
<rect x="618" y="683" width="1" height="9" fill="#c0c0c0"/>
<rect x="626" y="676" width="1" height="16" fill="#c0c0c0"/>
<rect x="634" y="672" width="1" height="20" fill="#c0c0c0"/>
<rect x="642" y="666" width="1" height="26" fill="#c0c0c0"/>
<rect x="650" y="663" width="1" height="29" fill="#c0c0c0"/>
<rect x="658" y="661" width="1" height="31" fill="#c0c0c0"/>
<rect x="666" y="659" width="1" height="33" fill="#c0c0c0"/>
<rect x="674" y="661" width="1" height="31" fill="#c0c0c0"/>
<rect x="682" y="665" width="1" height="27" fill="#c0c0c0"/>
<rect x="690" y="667" width="1" height="25" fill="#c0c0c0"/>
<rect x="698" y="669" width="1" height="23" fill="#c0c0c0"/>
<rect x="706" y="673" width="1" height="19" fill="#c0c0c0"/>
<rect x="714" y="676" width="1" height="16" fill="#c0c0c0"/>
<rect x="722" y="678" width="1" height="14" fill="#c0c0c0"/>
<rect x="730" y="683" width="1" height="9" fill="#c0c0c0"/>
<rect x="746" y="691" width="1" height="6" fill="#c0c0c0"/>
<rect x="754" y="691" width="1" height="11" fill="#c0c0c0"/>
<rect x="762" y="691" width="1" height="14" fill="#c0c0c0"/>
<rect x="770" y="691" width="1" height="16" fill="#c0c0c0"/>
<rect x="778" y="691" width="1" height="13" fill="#c0c0c0"/>
<rect x="786" y="691" width="1" height="13" fill="#c0c0c0"/>
<rect x="794" y="691" width="1" height="13" fill="#c0c0c0"/>
<rect x="802" y="691" width="1" height="14" fill="#c0c0c0"/>
<rect x="810" y="691" width="1" height="16" fill="#c0c0c0"/>
<rect x="818" y="691" width="1" height="17" fill="#c0c0c0"/>
<rect x="826" y="691" width="1" height="18" fill="#c0c0c0"/>
<rect x="834" y="691" width="1" height="18" fill="#c0c0c0"/>
<rect x="842" y="691" width="1" height="17" fill="#c0c0c0"/>
<rect x="850" y="691" width="1" height="14" fill="#c0c0c0"/>
<rect x="858" y="691" width="1" height="13" fill="#c0c0c0"/>
<rect x="866" y="691" width="1" height="5" fill="#c0c0c0"/>
<rect x="874" y="688" width="1" height="4" fill="#c0c0c0"/>
<rect x="882" y="683" width="1" height="9" fill="#c0c0c0"/>
<rect x="890" y="680" width="1" height="12" fill="#c0c0c0"/>
<rect x="898" y="680" width="1" height="12" fill="#c0c0c0"/>
<rect x="906" y="687" width="1" height="5" fill="#c0c0c0"/>
<rect x="914" y="691" width="1" height="1" fill="#c0c0c0"/>
<rect x="922" y="691" width="1" height="9" fill="#c0c0c0"/>
<rect x="930" y="691" width="1" height="15" fill="#c0c0c0"/>
<rect x="938" y="691" width="1" height="20" fill="#c0c0c0"/>
<rect x="946" y="691" width="1" height="27" fill="#c0c0c0"/>
<rect x="954" y="691" width="1" height="29" fill="#c0c0c0"/>
<rect x="962" y="691" width="1" height="29" fill="#c0c0c0"/>
<rect x="970" y="691" width="1" height="25" fill="#c0c0c0"/>
<rect x="978" y="691" width="1" height="21" fill="#c0c0c0"/>
<rect x="986" y="691" width="1" height="18" fill="#c0c0c0"/>
<rect x="994" y="691" width="1" height="18" fill="#c0c0c0"/>
<rect x="1002" y="691" width="1" height="18" fill="#c0c0c0"/>
<rect x="1010" y="691" width="1" height="18" fill="#c0c0c0"/>
<rect x="1018" y="691" width="1" height="17" fill="#c0c0c0"/>
<rect x="1026" y="691" width="1" height="17" fill="#c0c0c0"/>
<rect x="1034" y="691" width="1" height="16" fill="#c0c0c0"/>
<rect x="1042" y="691" width="1" height="14" fill="#c0c0c0"/>
<rect x="1050" y="691" width="1" height="16" fill="#c0c0c0"/>
<rect x="1058" y="691" width="1" height="18" fill="#c0c0c0"/>
<rect x="1066" y="691" width="1" height="19" fill="#c0c0c0"/>
<rect x="1074" y="691" width="1" height="22" fill="#c0c0c0"/>
<rect x="1082" y="691" width="1" height="23" fill="#c0c0c0"/>
<rect x="1090" y="691" width="1" height="25" fill="#c0c0c0"/>
<rect x="1098" y="691" width="1" height="26" fill="#c0c0c0"/>
<rect x="1106" y="691" width="1" height="28" fill="#c0c0c0"/>
<rect x="1114" y="691" width="1" height="32" fill="#c0c0c0"/>
<rect x="1122" y="691" width="1" height="38" fill="#c0c0c0"/>
<rect x="1130" y="691" width="1" height="43" fill="#c0c0c0"/>
<rect x="1138" y="691" width="1" height="45" fill="#c0c0c0"/>
<rect x="1146" y="691" width="1" height="47" fill="#c0c0c0"/>
<rect x="1154" y="691" width="1" height="48" fill="#c0c0c0"/>
<rect x="1162" y="691" width="1" height="52" fill="#c0c0c0"/>
<rect x="1170" y="691" width="1" height="52" fill="#c0c0c0"/>
<rect x="1178" y="691" width="1" height="51" fill="#c0c0c0"/>
<rect x="1186" y="691" width="1" height="50" fill="#c0c0c0"/>
<rect x="1194" y="691" width="1" height="50" fill="#c0c0c0"/>
<rect x="1202" y="691" width="1" height="49" fill="#c0c0c0"/>
<rect x="1210" y="691" width="1" height="49" fill="#c0c0c0"/>
<rect x="1218" y="691" width="1" height="46" fill="#c0c0c0"/>
<rect x="1226" y="691" width="1" height="42" fill="#c0c0c0"/>
<rect x="1234" y="691" width="1" height="35" fill="#c0c0c0"/>
<rect x="1242" y="691" width="1" height="30" fill="#c0c0c0"/>
<polyline points="2.5,734.0 10.5,729.8 18.5,726.4 26.5,721.9 34.5,718.5 42.5,714.3 50.5,712.7 58.5,709.1 66.5,706.4 74.5,704.3 82.5,703.5 90.5,703.0 98.5,702.3 106.5,702.8 114.5,703.1 122.5,703.2 130.5,703.3 138.5,702.9 146.5,702.7 154.5,702.5 162.5,702.2 170.5,701.7 178.5,701.4 186.5,701.8 194.5,702.9 202.5,704.6 210.5,706.7 218.5,708.7 226.5,710.8 234.5,713.3 242.5,716.0 250.5,718.3 258.5,720.1 266.5,721.3 274.5,721.7 282.5,721.9 290.5,722.7 298.5,723.4 306.5,723.4 314.5,723.0 322.5,722.8 330.5,722.7 338.5,722.9 346.5,723.7 354.5,724.5 362.5,724.8 370.5,725.0 378.5,725.9 386.5,727.2 394.5,728.7 402.5,729.9 410.5,730.7 418.5,730.9 426.5,730.9 434.5,731.0 442.5,731.0 450.5,731.0 458.5,731.0 466.5,731.2 474.5,731.7 482.5,732.3 490.5,732.7 498.5,733.0 506.5,733.3 514.5,733.1 522.5,732.1 530.5,730.4 538.5,728.0 546.5,725.0 554.5,721.6 562.5,718.5 570.5,715.1 578.5,711.6 586.5,708.1 594.5,705.2 602.5,702.6 610.5,699.7 618.5,696.7 626.5,693.4 634.5,689.8 642.5,685.9 650.5,681.8 658.5,677.8 666.5,673.6 674.5,669.9 682.5,667.3 690.5,665.4 698.5,664.6 706.5,664.8 714.5,665.9 722.5,667.6 730.5,670.0 738.5,673.6 746.5,677.6 754.5,681.8 762.5,686.0 770.5,690.2 778.5,693.7 786.5,696.7 794.5,699.6 802.5,702.1 810.5,703.9 818.5,705.1 826.5,705.9 834.5,706.2 842.5,706.4 850.5,706.4 858.5,706.5 866.5,705.7 874.5,703.8 882.5,701.1 890.5,698.0 898.5,694.7 906.5,692.3 914.5,690.5 922.5,690.0 930.5,690.2 938.5,691.9 946.5,695.2 954.5,699.4 962.5,703.8 970.5,707.9 978.5,710.6 986.5,712.5 994.5,713.6 1002.5,713.8 1010.5,713.5 1018.5,712.5 1026.5,711.1 1034.5,709.7 1042.5,708.4 1050.5,707.9 1058.5,708.0 1066.5,708.1 1074.5,708.6 1082.5,709.2 1090.5,710.1 1098.5,711.1 1106.5,712.5 1114.5,714.4 1122.5,716.8 1130.5,719.6 1138.5,722.4 1146.5,725.2 1154.5,728.0 1162.5,730.9 1170.5,733.7 1178.5,736.3 1186.5,738.2 1194.5,739.6 1202.5,740.2 1210.5,740.6 1218.5,740.4 1226.5,739.8 1234.5,737.9 1242.5,735.5" fill="none" stroke="#ff0000" stroke-width="1" stroke-dasharray="3 3"/>
<rect x="1579" y="653" width="2" height="1" fill="#000"/>
<text transform="translate(1582.5,663) scale(0.9,1)" class="ax">0.006444</text>
<rect x="1579" y="691" width="2" height="1" fill="#000"/>
<text transform="translate(1582.5,695) scale(0.9,1)" class="ax">0.00</text>
<rect x="1579" y="747" width="2" height="1" fill="#000"/>
<text transform="translate(1582.5,745) scale(0.9,1)" class="ax">-0.009871</text>
<rect x="1.5" y="25.5" width="1577" height="527" fill="none" stroke="#000" stroke-width="1"/>
<rect x="1.5" y="554.5" width="1577" height="96" fill="none" stroke="#000" stroke-width="1"/>
<rect x="1.5" y="652.5" width="1577" height="96" fill="none" stroke="#000" stroke-width="1"/>
<rect x="2" y="749" width="1" height="3" fill="#000"/>
<text transform="translate(1,761) scale(0.908,1)" class="ax">24 Jun 2020</text>
<rect x="66" y="749" width="1" height="3" fill="#000"/>
<text transform="translate(65,761) scale(0.908,1)" class="ax">3 Jul 2020</text>
<rect x="130" y="749" width="1" height="3" fill="#000"/>
<text transform="translate(129,761) scale(0.908,1)" class="ax">13 Jul 2020</text>
<rect x="194" y="749" width="1" height="3" fill="#000"/>
<text transform="translate(193,761) scale(0.908,1)" class="ax">22 Jul 2020</text>
<rect x="258" y="749" width="1" height="3" fill="#000"/>
<text transform="translate(257,761) scale(0.908,1)" class="ax">31 Jul 2020</text>
<rect x="322" y="749" width="1" height="3" fill="#000"/>
<text transform="translate(321,761) scale(0.908,1)" class="ax">10 Aug 2020</text>
<rect x="386" y="749" width="1" height="3" fill="#000"/>
<text transform="translate(385,761) scale(0.908,1)" class="ax">19 Aug 2020</text>
<rect x="450" y="749" width="1" height="3" fill="#000"/>
<text transform="translate(449,761) scale(0.908,1)" class="ax">28 Aug 2020</text>
<rect x="514" y="749" width="1" height="3" fill="#000"/>
<text transform="translate(513,761) scale(0.908,1)" class="ax">7 Sep 2020</text>
<rect x="578" y="749" width="1" height="3" fill="#000"/>
<text transform="translate(577,761) scale(0.908,1)" class="ax">16 Sep 2020</text>
<rect x="642" y="749" width="1" height="3" fill="#000"/>
<text transform="translate(641,761) scale(0.908,1)" class="ax">25 Sep 2020</text>
<rect x="706" y="749" width="1" height="3" fill="#000"/>
<text transform="translate(705,761) scale(0.908,1)" class="ax">5 Oct 2020</text>
<rect x="770" y="749" width="1" height="3" fill="#000"/>
<text transform="translate(769,761) scale(0.908,1)" class="ax">14 Oct 2020</text>
<rect x="834" y="749" width="1" height="3" fill="#000"/>
<text transform="translate(833,761) scale(0.908,1)" class="ax">23 Oct 2020</text>
<rect x="898" y="749" width="1" height="3" fill="#000"/>
<text transform="translate(897,761) scale(0.908,1)" class="ax">2 Nov 2020</text>
<rect x="962" y="749" width="1" height="3" fill="#000"/>
<text transform="translate(961,761) scale(0.908,1)" class="ax">11 Nov 2020</text>
<rect x="1026" y="749" width="1" height="3" fill="#000"/>
<text transform="translate(1025,761) scale(0.908,1)" class="ax">20 Nov 2020</text>
<rect x="1090" y="749" width="1" height="3" fill="#000"/>
<text transform="translate(1089,761) scale(0.908,1)" class="ax">30 Nov 2020</text>
<rect x="1154" y="749" width="1" height="3" fill="#000"/>
<text transform="translate(1153,761) scale(0.908,1)" class="ax">9 Dec 2020</text>
<rect x="1218" y="749" width="1" height="3" fill="#000"/>
<text transform="translate(1217,761) scale(0.908,1)" class="ax">18 Dec 2020</text>
<polygon points="4,32 11,32 7.5,35.5" fill="#000"/>
<text x="17.5" y="37" class="ax" textLength="65" lengthAdjust="spacingAndGlyphs">USDCAD,Daily</text>
<text x="89.5" y="37" class="ax" textLength="140" lengthAdjust="spacingAndGlyphs">1.28690 1.28694 1.28192 1.28614</text>
<text x="6.5" y="567" class="ax" textLength="67.5" lengthAdjust="spacingAndGlyphs">RSI(14) 49.5706</text>
<text x="6.5" y="665" class="ax" textLength="153" lengthAdjust="spacingAndGlyphs">MACD(12,26,9) -0.005259 -0.007851</text>
<rect x="0" y="768" width="1622" height="24" fill="#fff"/>
<rect x="0" y="769" width="1622" height="1" fill="#e3e3e3"/>
<rect x="0" y="771" width="1622" height="1" fill="#000"/>
<rect x="0" y="772" width="1622" height="18" fill="#f0f0f0"/>
<rect x="0" y="772" width="1622" height="1" fill="#fff"/>
<rect x="0" y="790" width="1622" height="2" fill="#f7f7f7"/>
<rect x="311" y="771" width="104" height="19" fill="#000"/>
<rect x="312" y="770" width="102" height="19" fill="#fff"/>
<text x="15.5" y="786" class="tab" fill="#6d6d6d">EURUSD,Daily</text>
<rect x="107" y="774" width="1" height="14" fill="#6d6d6d"/>
<text x="117.4" y="786" class="tab" fill="#6d6d6d">USDCHF,Daily</text>
<rect x="208" y="774" width="1" height="14" fill="#6d6d6d"/>
<text x="218.4" y="786" class="tab" fill="#6d6d6d">AUDUSD,Daily</text>
<text x="322.5" y="786" class="tab" fill="#000">USDCAD,Daily</text>
<text x="425" y="786" class="tab" fill="#6d6d6d">USDCNH,Daily</text>
<rect x="519" y="774" width="1" height="14" fill="#6d6d6d"/>
<text x="531.3" y="786" class="tab" fill="#6d6d6d">EURUSD,Daily</text>
<rect x="623" y="774" width="1" height="14" fill="#6d6d6d"/>
<text x="635.2" y="786" class="tab" fill="#6d6d6d">GBPUSD,H4</text>
<rect x="715" y="774" width="1" height="14" fill="#6d6d6d"/>
<text x="725" y="786" class="tab" fill="#6d6d6d">XAUUSD,Weekly</text>
<rect x="831" y="774" width="1" height="14" fill="#6d6d6d"/>
<text x="842.2" y="786" class="tab" fill="#6d6d6d">HK50,H1</text>
<rect x="903" y="774" width="1" height="14" fill="#6d6d6d"/>
<text x="914.5" y="786" class="tab" fill="#6d6d6d">UK100,H1</text>
<rect x="983" y="774" width="1" height="14" fill="#6d6d6d"/>
<text x="994.3" y="786" class="tab" fill="#6d6d6d">UK100,H1</text>
<rect x="1063" y="774" width="1" height="14" fill="#6d6d6d"/>
<text x="1074.6" y="786" class="tab" fill="#6d6d6d">GER30,H1</text>
<rect x="1143" y="774" width="1" height="14" fill="#6d6d6d"/>
<text x="1153.6" y="786" class="tab" fill="#6d6d6d">FRA40,H1</text>
<rect x="1219" y="774" width="1" height="14" fill="#6d6d6d"/>
<text x="1229.4" y="786" class="tab" fill="#6d6d6d">USOil,Daily</text>
<rect x="1303" y="774" width="1" height="14" fill="#6d6d6d"/>
<text x="1313.3" y="786" class="tab" fill="#6d6d6d">USDJPY,H1</text>
<rect x="1387" y="774" width="1" height="14" fill="#6d6d6d"/>
<text x="1397.4" y="786" class="tab" fill="#6d6d6d">DJ30,Daily</text>
<rect x="1467" y="774" width="1" height="14" fill="#6d6d6d"/>
<text x="1477.3" y="786" class="tab" fill="#6d6d6d">CHINA300,H1</text>
<rect x="1567" y="774" width="1" height="14" fill="#6d6d6d"/>
<text x="1577.6" y="786" class="tab" fill="#6d6d6d">US</text>
<rect x="1588" y="772" width="34" height="18" fill="#f0f0f0"/>
<polygon points="1593.5,780.5 1597,777 1597,784" fill="#a0a0a0"/>
<polygon points="1616.5,780.5 1613,777 1613,784" fill="#000"/>
</svg>
</body></html>
